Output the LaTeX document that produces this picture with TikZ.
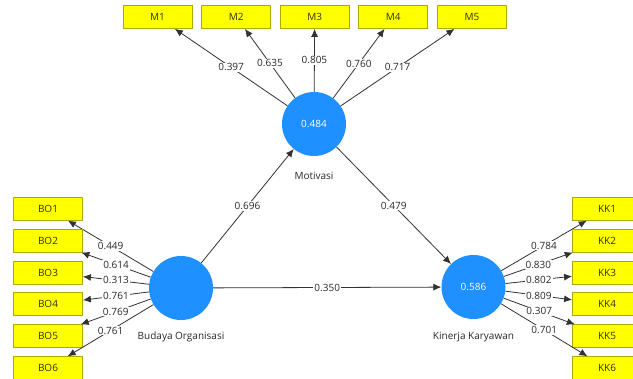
\documentclass[tikz,border=0pt]{standalone}
\usepackage{fontspec}
\setmainfont{Open Sans}
\usetikzlibrary{arrows.meta}
\definecolor{lvblue}{RGB}{30,144,255}
\definecolor{mvfill}{RGB}{255,255,0}
\definecolor{mvborder}{RGB}{170,170,0}
\definecolor{mvtext}{RGB}{50,50,0}
\definecolor{edgecol}{RGB}{50,50,50}
\definecolor{labcol}{RGB}{40,40,40}
\tikzset{
  latent/.style={circle, fill=lvblue, draw=none, minimum size=64pt, inner sep=0pt,
    text=white},
  lvname/.style={text=labcol},
  indicator/.style={rectangle, fill=mvfill, draw=mvborder, line width=0.8pt,
    minimum width=69pt, minimum height=23pt, inner sep=0pt, text=mvtext},
  link/.style={draw=edgecol, line width=0.8pt, -{Latex[length=8pt,width=7pt]}},
  coef/.style={fill=white, inner sep=1pt, text=labcol}
}
\begin{document}
\begin{tikzpicture}[x=1pt, y=-1pt, font=\fontsize{10}{12}\selectfont]
\useasboundingbox (0,0) rectangle (633,379);
\fill[white] (0,0) rectangle (633,379);

% latent variables
\node[latent] (mot) at (314,124) {0.484};
\node[latent] (bo) at (181,288) {};
\node[latent] (kk) at (473.5,287) {0.586};
\node[lvname] (motlab) at (314,176) {Motivasi};
\node[lvname] (bolab) at (181,337) {Budaya Organisasi};
\node[lvname] (kklab) at (473.5,337) {Kinerja Karyawan};

% indicators of Motivasi
\foreach \i/\x/\v in {1/157.5/0.397, 2/236.3/0.635, 3/314.7/0.805, 4/393.3/0.760, 5/472/0.717}{
  \node[indicator] (M\i) at (\x,17) {M\i};
  \draw[link] (mot) -- node[coef] {\v} (M\i);
}

% indicators of Budaya Organisasi
\foreach \i/\v in {1/0.449, 2/0.614, 3/0.313, 4/0.761, 5/0.769, 6/0.761}{
  \node[indicator] (BO\i) at (48,{208.7+31.9*(\i-1)}) {BO\i};
  \draw[link] (bo) -- node[coef] {\v} (BO\i);
}

% indicators of Kinerja Karyawan
\foreach \i/\v in {1/0.784, 2/0.830, 3/0.802, 4/0.809, 5/0.307, 6/0.701}{
  \node[indicator] (KK\i) at (607,{208.7+31.9*(\i-1)}) {KK\i};
  \draw[link] (kk) -- node[coef] {\v} (KK\i);
}

% structural paths
\draw[link] (bo) -- node[coef] {0.696} (mot);
\draw[link] (mot) -- node[coef] {0.479} (kk);
\draw[link] (bo) -- node[coef] {0.350} (kk);
\end{tikzpicture}
\end{document}
